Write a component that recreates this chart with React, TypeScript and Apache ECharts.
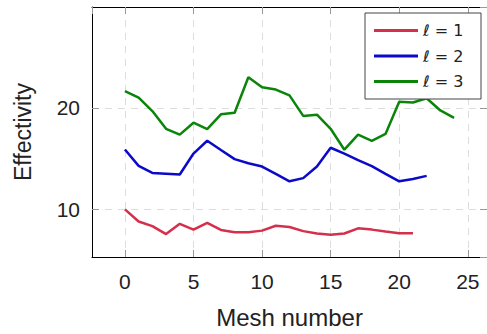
import React, { useEffect, useRef } from "react";
import * as echarts from "echarts";

const meshL1: number[] = Array.from({ length: 22 }, (_, i) => i);
const valuesL1: number[] = [10.0, 8.8, 8.35, 7.56, 8.57, 8.0, 8.67, 7.97, 7.75, 7.75, 7.9, 8.38, 8.26, 7.85, 7.62, 7.5, 7.62, 8.13, 8.0, 7.81, 7.65, 7.65];
const valuesL2: number[] = [15.9, 14.29, 13.59, 13.52, 13.43, 15.5, 16.76, 15.85, 14.95, 14.54, 14.22, 13.5, 12.76, 13.08, 14.22, 16.07, 15.5, 14.86, 14.26, 13.5, 12.76, 13.0, 13.3];
const valuesL3: number[] = [21.66, 21.02, 19.69, 17.94, 17.37, 18.54, 17.9, 19.37, 19.52, 23.02, 22.04, 21.81, 21.24, 19.21, 19.33, 17.94, 15.88, 17.37, 16.76, 17.43, 20.6, 20.54, 20.95, 19.75, 19.02];
const seriesNames: string[] = ["ℓ = 1", "ℓ = 2", "ℓ = 3"];
const seriesColors: string[] = ["#d62f4b", "#0a0ac8", "#0a850a"];
const xTicks: number[] = [0, 5, 10, 15, 20, 25];
const yTicks: number[] = [10, 20];

const toPairs = (vals: number[]) => vals.map((v, i) => [i, v]);

export default function App() {
  const ref = useRef<HTMLDivElement>(null);
  useEffect(() => {
    if (!ref.current) return;
    const chart = echarts.init(ref.current, undefined, { renderer: "svg" });
    const font = "Liberation Sans";
    const xMin = -2.4, xMax = 26.4, yMin = 5.3, yMax = 29.95;
    const splitStyle = { show: true, lineStyle: { color: "#dddddd", type: [7, 6] as any, width: 1 } };
    const tickStyle = { show: true, inside: true, length: 7, lineStyle: { color: "#999999", width: 1 } };
    const allData = [valuesL1, valuesL2, valuesL3];
    chart.setOption({
      animation: false,
      grid: { left: 92, top: 7, width: 398, height: 259, containLabel: false },
      legend: {
        orient: "vertical",
        left: 365,
        top: 13,
        padding: [9.5, 8, 9.5, 9],
        itemGap: 9.5,
        itemWidth: 44,
        itemHeight: 3,
        icon: "rect",
        borderColor: "#444444",
        borderWidth: 1,
        backgroundColor: "#ffffff",
        data: seriesNames,
        textStyle: { fontFamily: "DejaVu Sans", fontSize: 16, lineHeight: 16, color: "#222222", width: 50 },
      },
      xAxis: [
        {
          type: "value",
          min: xMin,
          max: xMax,
          splitNumber: 5,
          name: "Mesh number",
          nameLocation: "middle",
          nameGap: 48,
          nameTextStyle: { fontFamily: font, fontSize: 24, color: "#222222" },
          axisLine: { show: true, onZero: false, lineStyle: { color: "#000000", width: 1 } },
          axisTick: tickStyle,
          axisLabel: {
            fontFamily: font,
            fontSize: 21,
            color: "#222222",
            margin: 14,
            showMinLabel: false,
            showMaxLabel: false,
            formatter: (v: number) => (xTicks.includes(v) ? String(v) : ""),
          },
          splitLine: splitStyle,
        },
        {
          type: "value",
          position: "top",
          min: xMin,
          max: xMax,
          splitNumber: 5,
          axisLine: { show: true, onZero: false, lineStyle: { color: "#000000", width: 1 } },
          axisTick: tickStyle,
          axisLabel: { show: false },
          splitLine: { show: false },
        },
      ],
      yAxis: [
        {
          type: "value",
          min: yMin,
          max: yMax,
          splitNumber: 2,
          name: "Effectivity",
          nameLocation: "middle",
          nameGap: 58,
          nameTextStyle: { fontFamily: font, fontSize: 23, color: "#222222" },
          axisLine: { show: true, onZero: false, lineStyle: { color: "#000000", width: 1 } },
          axisTick: tickStyle,
          axisLabel: {
            fontFamily: font,
            fontSize: 21,
            color: "#222222",
            margin: 12,
            showMinLabel: false,
            showMaxLabel: false,
            formatter: (v: number) => (yTicks.includes(v) ? String(v) : ""),
          },
          splitLine: splitStyle,
        },
        {
          type: "value",
          position: "right",
          min: yMin,
          max: yMax,
          splitNumber: 2,
          axisLine: { show: true, onZero: false, lineStyle: { color: "#000000", width: 1 } },
          axisTick: tickStyle,
          axisLabel: { show: false },
          splitLine: { show: false },
        },
      ],
      series: allData.map((vals, k) => ({
        name: seriesNames[k],
        type: "line",
        data: toPairs(vals),
        showSymbol: false,
        symbol: "none",
        color: seriesColors[k],
        lineStyle: { color: seriesColors[k], width: 2.5 },
        z: 3,
      })),
    });
    return () => chart.dispose();
  }, []);
  return <div ref={ref} style={{ width: 487, height: 334, position: "absolute", left: 0, top: 0 }} />;
}
